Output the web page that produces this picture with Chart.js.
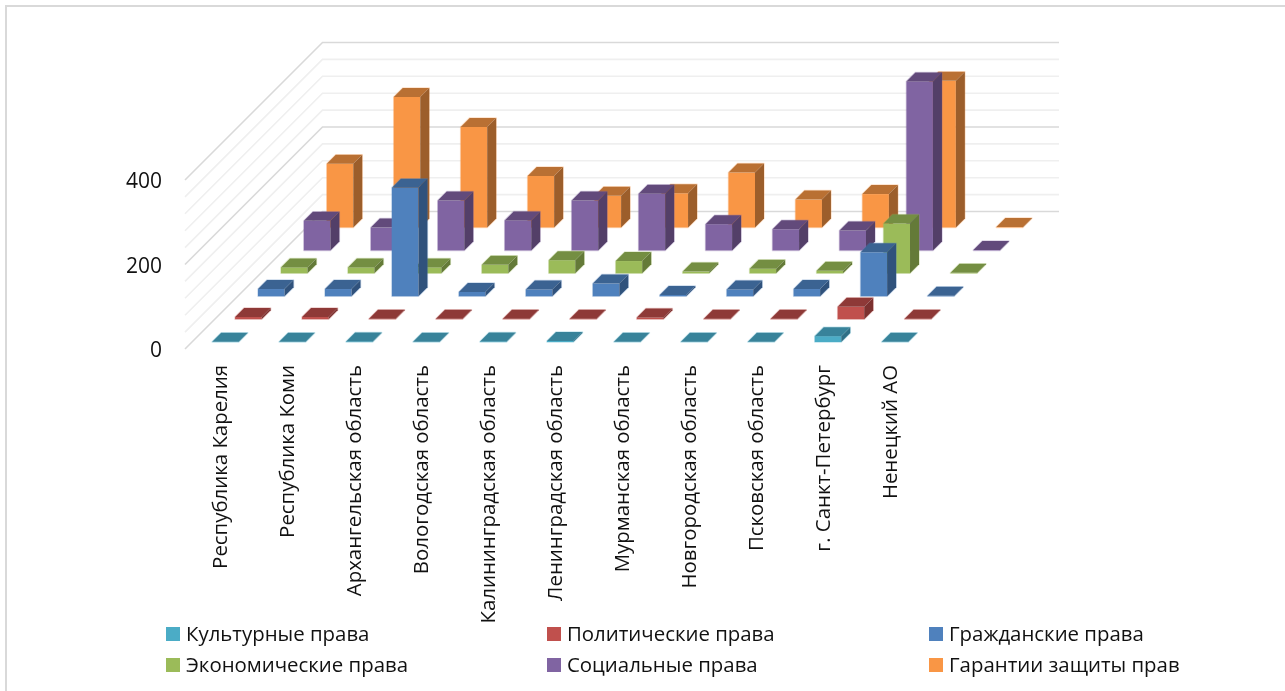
<!DOCTYPE html>
<html lang="ru">

<head>
    <meta charset="UTF-8">
    <title>Права по регионам</title>
    <script src="https://cdn.jsdelivr.net/npm/chart.js"></script>
    <style>
        body { margin: 0; background: #fff; }
        .box { position: relative; width: 1285px; height: 691px; overflow: hidden; }
        .frame { position: absolute; left: 5px; top: 5px; width: 1285px; height: 700px; border: 2px solid #d9d9d9; }
        canvas { position: absolute; left: 0; top: 0; }
        .legend-item { position: absolute; font: 20.4px "Open Sans", sans-serif; color: #111; white-space: nowrap; line-height: 24px; }
        .legend-item i { position: absolute; left: -20px; top: 6px; width: 14px; height: 14px; }
    </style>
</head>

<body>

    <div class="box">
        <div class="frame"></div>
        <canvas id="grafico" width="1285" height="691"></canvas>
        <div id="legenda"></div>
    </div>

    <script>
        // Dados
        var regioes = ["Республика Карелия", "Республика Коми", "Архангельская область", "Вологодская область",
            "Калининградская область", "Ленинградская область", "Мурманская область", "Новгородская область",
            "Псковская область", "г. Санкт-Петербург", "Ненецкий АО"];
        var serieNomes = ["Культурные права", "Политические права", "Гражданские права",
            "Экономические права", "Социальные права", "Гарантии защиты прав"];

        var kulturnye = [0.5, 0.5, 1.5, 0.5, 1.5, 2.5, 0.5, 0.5, 0.5, 14, 0.5];
        var politicheskie = [5, 5, 1, 1, 1, 1, 4, 1, 1, 29, 1];
        var grazhdanskie = [17, 17, 257, 10, 16, 30, 3, 16, 17, 104, 1];
        var ekonomicheskie = [14, 14, 14, 20, 31, 29, 4, 11, 6, 118, 1];
        var socialnye = [70, 54, 118, 71, 118, 134, 62, 50, 47, 400, 1];
        var garantii = [151, 309, 238, 122, 75, 81, 130, 66, 79, 347, 1];

        var valoresY = [0, 200, 400];

        // [frente, topo, lateral]
        var cores = [
            ["#4BACC6", "#38839A", "#2F7086"],
            ["#C0504D", "#8E3937", "#7C312F"],
            ["#4F81BD", "#3B6392", "#30527C"],
            ["#9BBB59", "#748E42", "#647A38"],
            ["#8064A2", "#624A7B", "#533F68"],
            ["#F99645", "#B97033", "#9C5E2B"]
        ];

        var profTotal = 137.5; // profundidade do piso em px (45 graus)
        var larguraBarra = 26.5;
        var profBarra = 9;

        // Paredes e linhas de grade, atrás das barras
        var paredes = {
            id: 'paredes',
            beforeDatasetsDraw: function (chart) {
                var ctx = chart.ctx, y = chart.scales.y, a = chart.chartArea;
                ctx.save();
                for (var v = 0; v <= 400; v += 40) {
                    var py = y.getPixelForValue(v);
                    ctx.strokeStyle = v % 200 == 0 ? '#d9d9d9' : '#efefef';
                    ctx.lineWidth = 1.6;
                    ctx.beginPath();
                    ctx.moveTo(a.left, py);
                    ctx.lineTo(a.left + profTotal, py - profTotal);
                    ctx.lineTo(a.right + profTotal, py - profTotal);
                    ctx.stroke();
                }
                ctx.restore();
            }
        };

        // Desenha cada barra como caixa 3D a partir do elemento do Chart.js
        var caixas3d = {
            id: 'caixas3d',
            beforeDatasetDraw: function (chart, args) {
                var ctx = chart.ctx, meta = args.meta, k = args.index, c = cores[k];
                var passo = profTotal / 6;
                var dx = (k + 0.5) * passo - profBarra / 2;
                var dy = -(k + 0.5) * passo + profBarra / 2;
                ctx.save();
                meta.data.forEach(function (bar) {
                    var x0 = bar.x + dx - larguraBarra / 2, x1 = x0 + larguraBarra;
                    var base = bar.base + dy, topo = bar.y + dy, d = profBarra;
                    // contorno claro em volta da caixa
                    ctx.strokeStyle = c[0];
                    ctx.globalAlpha = 0.3;
                    ctx.lineWidth = 1.5;
                    ctx.lineJoin = 'round';
                    ctx.beginPath();
                    ctx.moveTo(x0, base);
                    ctx.lineTo(x0, topo);
                    ctx.lineTo(x0 + d, topo - d);
                    ctx.lineTo(x1 + d, topo - d);
                    ctx.lineTo(x1 + d, base - d);
                    ctx.lineTo(x1, base);
                    ctx.closePath();
                    ctx.stroke();
                    ctx.globalAlpha = 1;
                    // frente
                    ctx.fillStyle = c[0];
                    ctx.fillRect(x0, topo, larguraBarra, base - topo);
                    // topo
                    ctx.fillStyle = c[1];
                    ctx.beginPath();
                    ctx.moveTo(x0, topo);
                    ctx.lineTo(x0 + d, topo - d);
                    ctx.lineTo(x1 + d, topo - d);
                    ctx.lineTo(x1, topo);
                    ctx.closePath();
                    ctx.fill();
                    // lateral
                    ctx.fillStyle = c[2];
                    ctx.beginPath();
                    ctx.moveTo(x1, topo);
                    ctx.lineTo(x1 + d, topo - d);
                    ctx.lineTo(x1 + d, base - d);
                    ctx.lineTo(x1, base);
                    ctx.closePath();
                    ctx.fill();
                });
                ctx.restore();
                return false; // não desenha a barra plana padrão
            }
        };

        var series = [kulturnye, politicheskie, grazhdanskie, ekonomicheskie, socialnye, garantii];

        new Chart(document.getElementById('grafico'), {
            type: 'bar',
            data: {
                labels: regioes,
                datasets: series.map(function (vals, k) {
                    return { label: serieNomes[k], data: vals, backgroundColor: cores[k][0], grouped: false };
                })
            },
            options: {
                responsive: false,
                animation: false,
                layout: { padding: { left: 0, right: 363.5, top: 180, bottom: 42 } },
                plugins: { legend: { display: false }, tooltip: { enabled: false } },
                scales: {
                    x: {
                        grid: { display: false },
                        border: { display: false },
                        afterFit: function (s) { s.height = 300; },
                        ticks: {
                            minRotation: 90,
                            maxRotation: 90,
                            autoSkip: false,
                            padding: 8,
                            labelOffset: 3,
                            color: '#111',
                            font: { family: 'Open Sans', size: 20.4 }
                        }
                    },
                    y: {
                        min: 0,
                        max: 400,
                        grid: { display: false },
                        border: { display: false },
                        afterFit: function (s) { s.width = 185; },
                        ticks: {
                            stepSize: 200,
                            padding: 15,
                            labelOffset: 2.5,
                            color: '#111',
                            font: { family: 'Open Sans', size: 21 }
                        },
                        afterBuildTicks: function (s) {
                            s.ticks = valoresY.map(function (v) { return { value: v }; });
                        }
                    }
                }
            },
            plugins: [paredes, caixas3d]
        });

        // Legenda em três colunas
        var colunas = [186, 567, 949];
        var linhas = [621, 652];
        var legenda = document.getElementById('legenda');
        serieNomes.forEach(function (nome, k) {
            var d = document.createElement('div');
            d.className = 'legend-item';
            d.style.left = colunas[k % 3] + 'px';
            d.style.top = linhas[Math.floor(k / 3)] + 'px';
            d.innerHTML = '<i style="background:' + cores[k][0] + '"></i>' + nome;
            legenda.appendChild(d);
        });
    </script>

</body>

</html>
